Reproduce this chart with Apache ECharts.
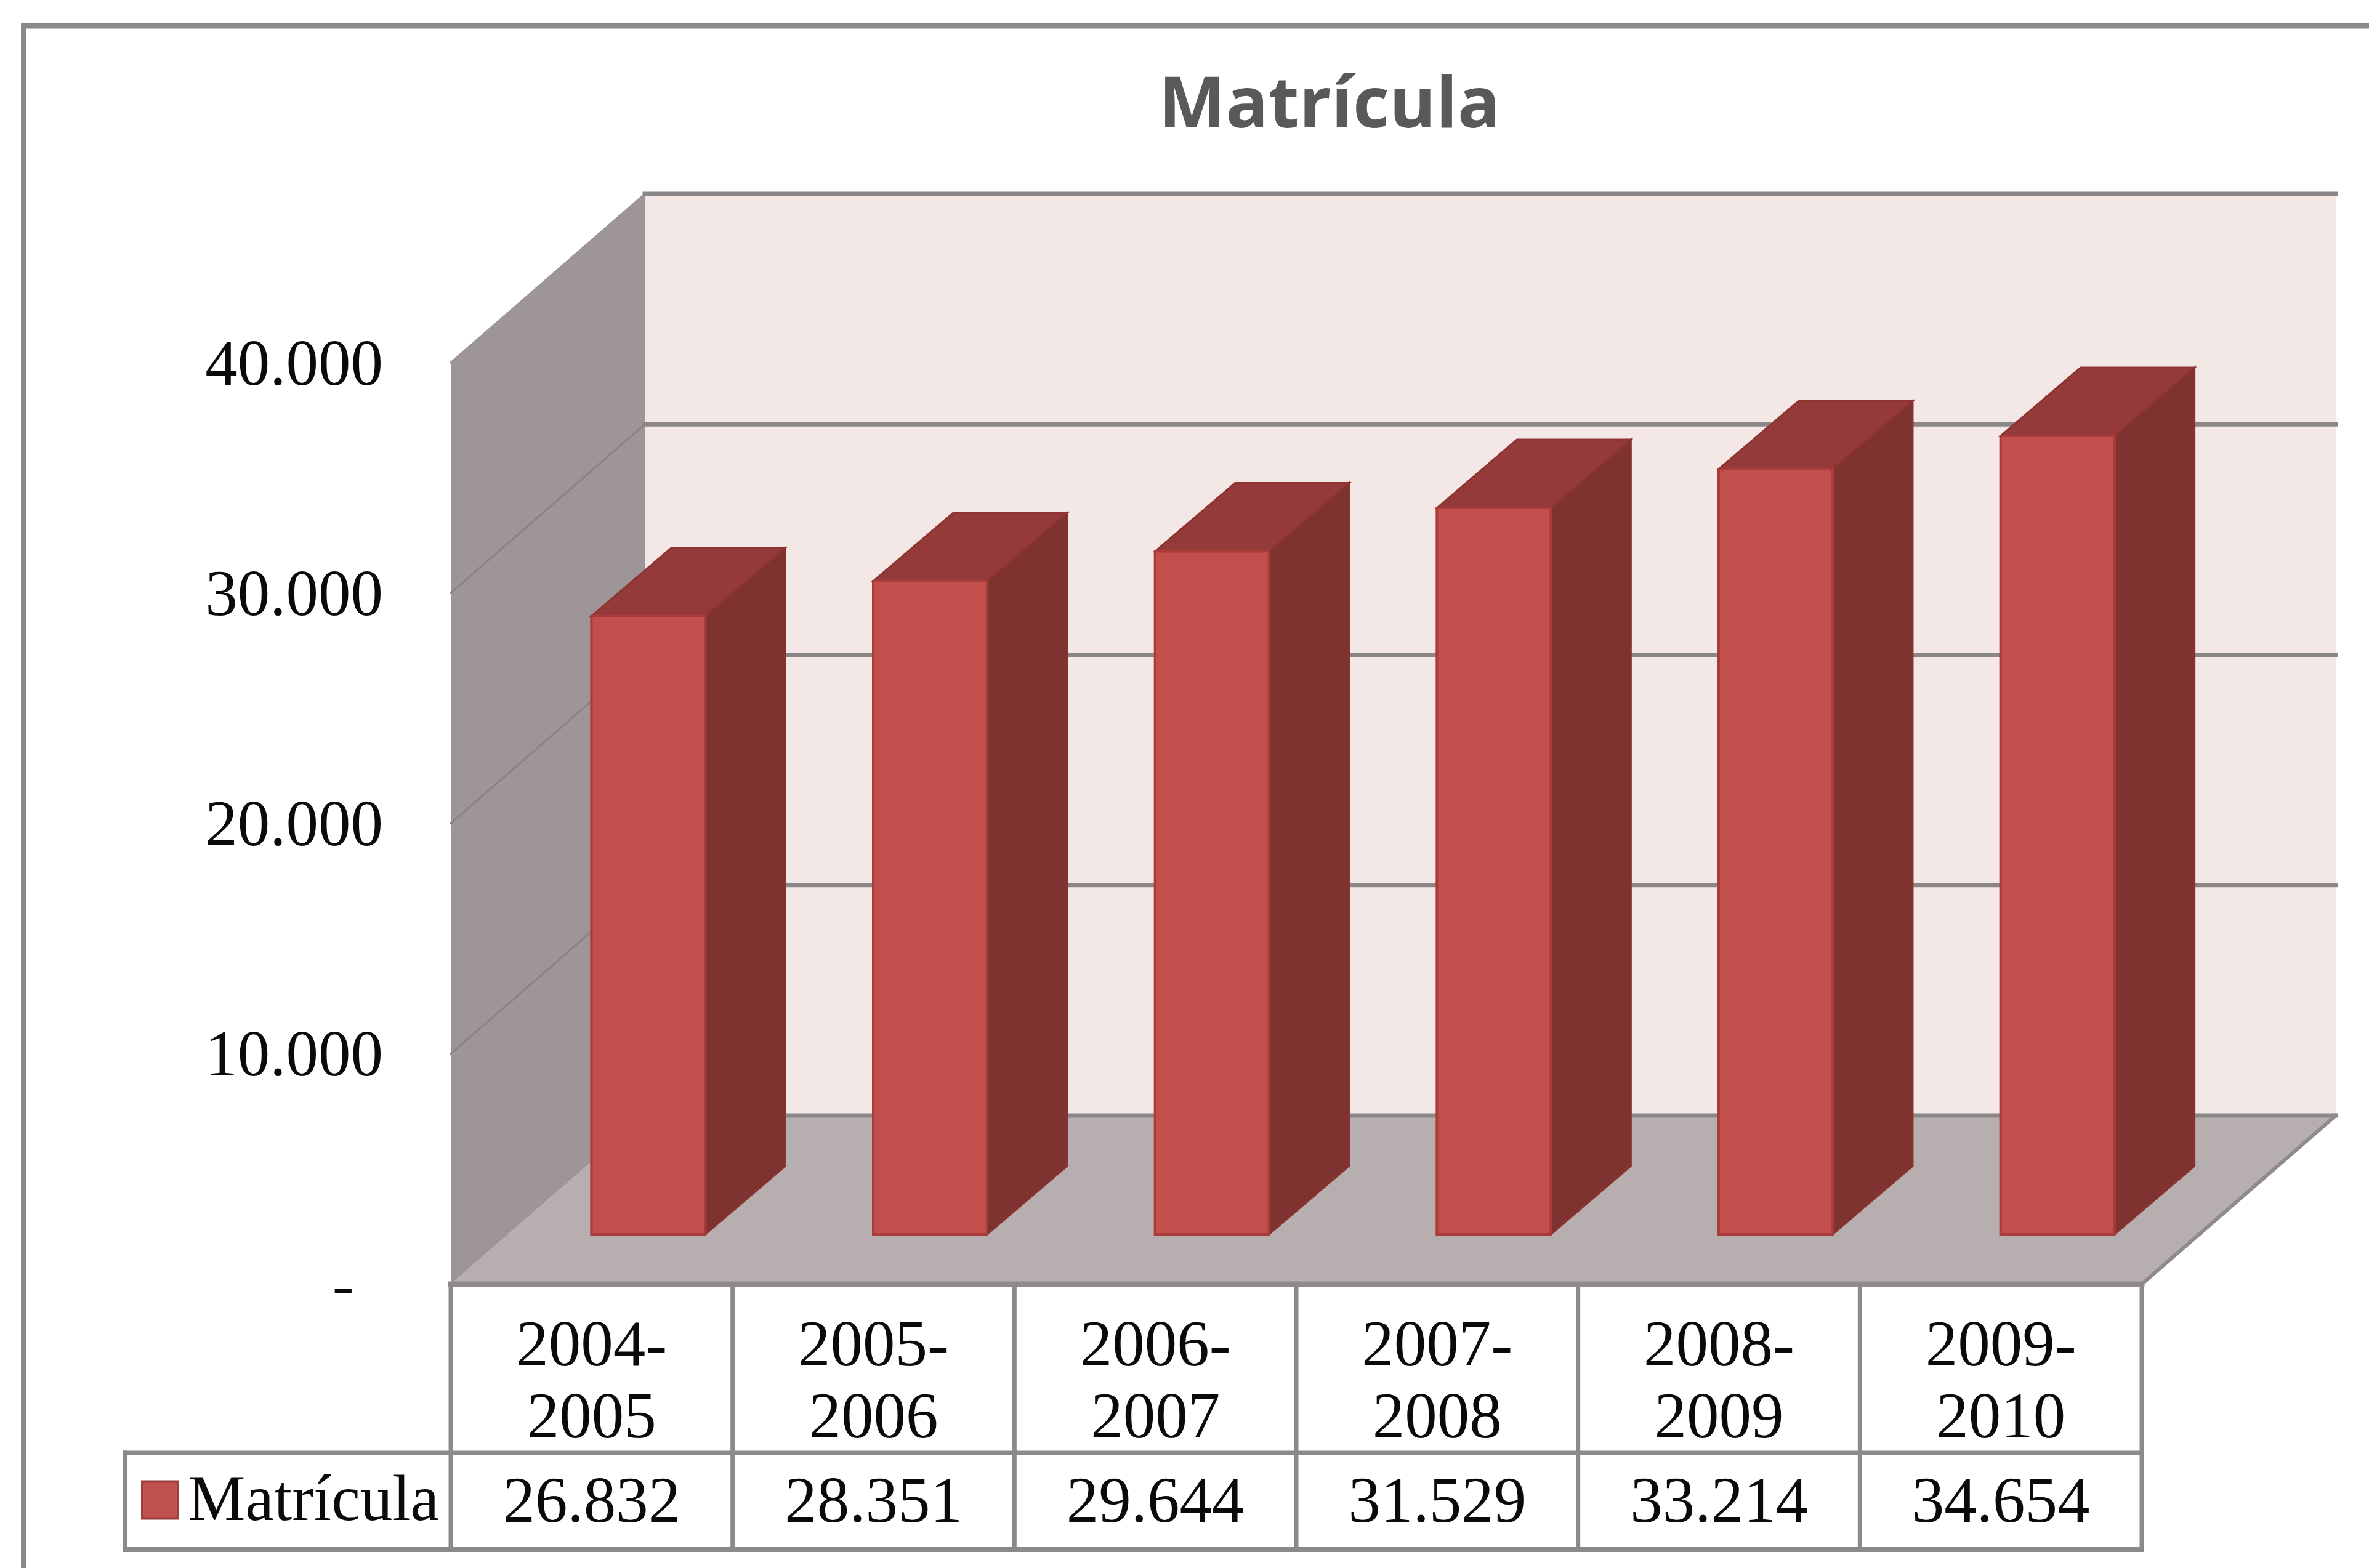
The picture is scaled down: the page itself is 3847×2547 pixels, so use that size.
<!DOCTYPE html>
<html>
<head>
<meta charset="utf-8">
<style>html,body{margin:0;padding:0;background:#fff}#chart{width:3847px;height:2547px}</style>
<script src="https://cdn.jsdelivr.net/npm/echarts@6/dist/echarts.min.js"></script>
</head>
<body>
<div id="chart"></div>
<script>
const chartTitle = 'Matrícula';
const seriesName = 'Matrícula';
const categories = ['2004-\n2005', '2005-\n2006', '2006-\n2007', '2007-\n2008', '2008-\n2009', '2009-\n2010'];
const matricula = [26832, 28351, 29644, 31529, 33214, 34654];
const valueTicks = [10000, 20000, 30000, 40000];

const SERIF = '"Liberation Serif", serif';
const TEXT_SIZE = 105;
const DEPTH = [315, -274];          // front plane to back wall
const BAR_SHIFT = [92, -81];        // bar front relative to the category centre
const BAR_DEPTH = [130, -111];
const BAR_WIDTH = 185;
const ROW1 = 274, ROW2 = 431;       // table rows below the floor line
const TABLE_LEFT = 203;
const GRID = '#8b8687';
const INK = '#0a0a0a';

function fmt(v) { return String(v).replace(/\B(?=(\d{3})+$)/g, '.'); }
function line(a, b, stroke, w) {
  return { type: 'line', shape: { x1: a[0], y1: a[1], x2: b[0], y2: b[1] }, style: { stroke, lineWidth: w, lineCap: 'square' } };
}
function poly(points, fill, stroke, w) {
  return { type: 'polygon', shape: { points }, style: { fill, stroke: stroke || null, lineWidth: w || 0 } };
}
function text(x, y, t, align) {
  return { type: 'text', x, y, style: { text: t, fill: INK, font: TEXT_SIZE + 'px ' + SERIF, align: align || 'center', verticalAlign: 'middle' } };
}

function renderStructure(params, api) {
  const half = api.size([1, 0])[0] / 2;
  const n = categories.length;
  const x0 = api.coord([0, 0])[0] - half;
  const x1 = api.coord([n - 1, 0])[0] + half;
  const y0 = api.coord([0, 0])[1];
  const yTop = api.coord([0, 40000])[1];
  const b = (p) => [p[0] + DEPTH[0], p[1] + DEPTH[1]];
  const children = [];
  // back wall, left wall, floor
  children.push(poly([b([x0, yTop]), b([x1, yTop]), b([x1, y0]), b([x0, y0])], '#f4e8e6'));
  children.push(poly([[x0, yTop], b([x0, yTop]), b([x0, y0]), [x0, y0]], '#9d9597'));
  children.push(poly([[x0, y0], b([x0, y0]), b([x1, y0]), [x1, y0]], '#b6aeaf'));
  // gridlines, front to back wall and across it
  valueTicks.forEach((v) => {
    const y = api.coord([0, v])[1];
    children.push(line([x0, y], b([x0, y]), v === 40000 ? '#9d9597' : '#8a8385', 3));
    children.push(line(b([x0, y]), b([x1, y]), GRID, 7));
  });
  children.push(line(b([x0, y0]), b([x1, y0]), GRID, 7));
  children.push(line([x1, y0], b([x1, y0]), '#8f8b8b', 6));
  children.push(line([x0, y0], [x1, y0], '#8f8b8b', 9));
  // table rules
  const T = '#8a8a8a';
  for (let i = 0; i <= n; i++) {
    const x = x0 + i * half * 2;
    children.push(line([x, y0], [x, y0 + ROW2], T, 7));
  }
  children.push(line([TABLE_LEFT, y0 + ROW1], [x1, y0 + ROW1], T, 7));
  children.push(line([TABLE_LEFT, y0 + ROW2], [x1, y0 + ROW2], T, 8));
  children.push(line([TABLE_LEFT, y0 + ROW1], [TABLE_LEFT, y0 + ROW2], T, 7));
  // series key in the table
  const yc = y0 + (ROW1 + ROW2) / 2;
  children.push({ type: 'rect', shape: { x: 231, y: yc - 32, width: 58, height: 60 }, style: { fill: '#c0504d', stroke: '#98403d', lineWidth: 4 } });
  children.push(text(305, yc + 3, seriesName, 'left'));
  return { type: 'group', children };
}

function renderBar(params, api) {
  const top = api.coord([api.value(0), api.value(1)]);
  const base = api.coord([api.value(0), 0]);
  const left = top[0] + BAR_SHIFT[0] - BAR_WIDTH / 2;
  const right = left + BAR_WIDTH;
  const yT = top[1] + BAR_SHIFT[1];
  const yB = base[1] + BAR_SHIFT[1];
  const [dx, dy] = BAR_DEPTH;
  return {
    type: 'group',
    children: [
      poly([[right, yT], [right + dx, yT + dy], [right + dx, yB + dy], [right, yB]], '#7e3331', '#8a3230', 3),
      poly([[left, yT], [left + dx, yT + dy], [right + dx, yT + dy], [right, yT]], '#953a3b', '#8f3331', 3),
      { type: 'rect', shape: { x: left, y: yT, width: BAR_WIDTH, height: yB - yT }, style: { fill: '#c24f4b', stroke: '#a83c39', lineWidth: 4 } }
    ]
  };
}

function renderCell(params, api) {
  const c = api.coord([api.value(0), 0]);
  return text(c[0], c[1] + (ROW1 + ROW2) / 2 + 6, fmt(api.value(1)));
}

const chart = echarts.init(document.getElementById('chart'), null, { renderer: 'canvas' });
chart.setOption({
  animation: false,
  backgroundColor: '#ffffff',
  title: {
    text: chartTitle, left: 2154, top: 112, textAlign: 'center',
    textStyle: { fontFamily: '"Open Sans", sans-serif', fontWeight: 'bold', fontSize: 115, color: '#595959' }
  },
  grid: { left: 732, top: 589, width: 2746, height: 1497, containLabel: false },
  xAxis: {
    type: 'category', data: categories,
    axisLine: { show: false }, axisTick: { show: false }, splitLine: { show: false },
    axisLabel: { margin: 46, interval: 0, color: INK, fontFamily: SERIF, fontSize: TEXT_SIZE, lineHeight: 117 }
  },
  yAxis: {
    type: 'value', min: 0, max: 40000, interval: 10000,
    axisLine: { show: false }, axisTick: { show: false }, splitLine: { show: false },
    axisLabel: {
      margin: 110, color: INK, fontFamily: SERIF, fontSize: TEXT_SIZE,
      verticalAlign: 'top', lineHeight: 16,
      formatter: (v) => (v === 0 ? '- \u2009' : fmt(v))
    }
  },
  graphic: [
    { type: 'line', shape: { x1: 38, y1: 42, x2: 3847, y2: 42 }, style: { stroke: '#8a8a8a', lineWidth: 9 } },
    { type: 'line', shape: { x1: 38, y1: 38, x2: 38, y2: 2547 }, style: { stroke: '#8a8a8a', lineWidth: 8 } }
  ],
  series: [
    { type: 'custom', name: 'structure', coordinateSystem: 'cartesian2d', clip: false, z: 1, silent: true, renderItem: renderStructure, data: [[0, 0]] },
    { type: 'custom', name: seriesName, coordinateSystem: 'cartesian2d', clip: false, z: 2, renderItem: renderBar, encode: { x: 0, y: 1 }, data: matricula.map((v, i) => [i, v]) },
    { type: 'custom', name: 'table', coordinateSystem: 'cartesian2d', clip: false, z: 3, silent: true, renderItem: renderCell, encode: { x: 0, y: 1 }, data: matricula.map((v, i) => [i, v]) }
  ]
});
</script>
</body>
</html>
